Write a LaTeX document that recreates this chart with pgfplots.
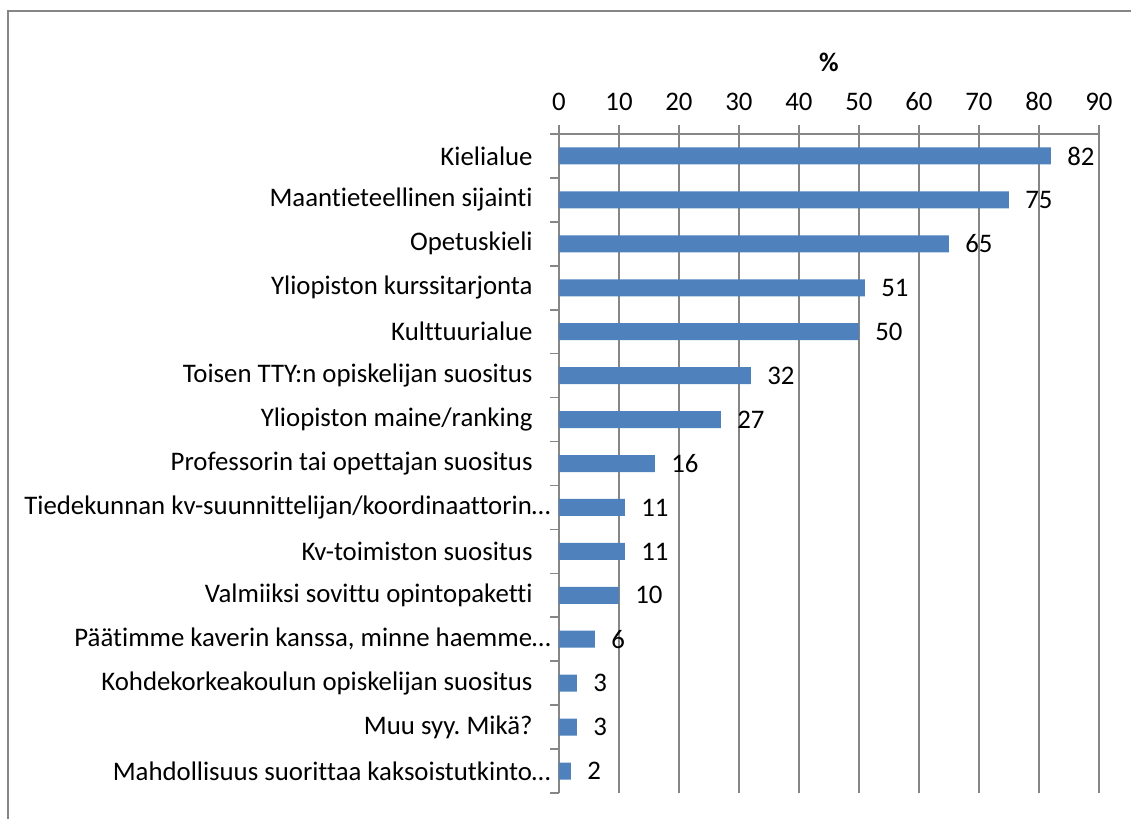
\documentclass[border=0pt]{standalone}
\usepackage{fontspec}
\setmainfont{Carlito}[Ligatures=NoCommon]
\usepackage{pgfplots}
\pgfplotsset{compat=1.18}
\definecolor{barblue}{HTML}{4F81BD}
\definecolor{axgray}{HTML}{868686}
\newcommand{\lf}{\fontsize{13.4pt}{15pt}\selectfont}
\newcommand{\pd}{\rule{9pt}{0pt}}
\frenchspacing
\begin{document}
\lf
\begin{tikzpicture}[x=1pt,y=1pt]
\path[use as bounding box] (0,0) rectangle (565.5,-409.5);
\draw[axgray, line width=1pt] (4,-409.5) -- (4,-5.5) -- (565.5,-5.5);
\begin{axis}[
  at={(279.5pt,-67pt)}, anchor=north west,
  scale only axis, width=270pt, height=329.5pt,
  xbar, bar width=8.5pt,
  xmin=0, xmax=90, xtick={0,10,...,90},
  ymin=-0.5, ymax=14.5, y dir=reverse,
  ytick={-0.5,0.5,...,14.5}, yticklabels={},
  extra y ticks={0,1,...,14},
  extra y tick labels={
    Kielialue\pd,
    Maantieteellinen sijainti\pd,
    Opetuskieli\pd,
    Yliopiston kurssitarjonta\pd,
    Kulttuurialue\pd,
    Toisen TTY:n opiskelijan suositus\pd,
    Yliopiston maine/ranking\pd,
    Professorin tai opettajan suositus\pd,
    Tiedekunnan kv-suunnittelijan/koordinaattorin…,
    Kv-toimiston suositus\pd,
    Valmiiksi sovittu opintopaketti\pd,
    Päätimme kaverin kanssa{,} minne haemme…,
    Kohdekorkeakoulun opiskelijan suositus\pd,
    Muu syy. Mikä?\pd,
    Mahdollisuus suorittaa kaksoistutkinto…},
  extra y tick style={major tick length=0pt,
    yticklabel style={anchor=east, inner sep=0pt, xshift=-4pt}},
  axis x line*=top, axis y line*=left,
  axis line style={axgray, line width=0.8pt},
  tick style={axgray, line width=0.8pt},
  tick align=outside, major tick length=4.5pt,
  xmajorgrids, grid style={axgray, line width=0.8pt},
  /pgf/number format/assume math mode=true,
  tick label style={font=\lf, black},
  xticklabel style={inner sep=0pt, yshift=7pt},
  nodes near coords,
  every node near coord/.append style={anchor=west, inner sep=0pt, xshift=8pt, font=\lf, black},
]
\addplot[fill=barblue, draw=none] coordinates {
(82,0) (75,1) (65,2) (51,3) (50,4) (32,5) (27,6) (16,7) (11,8) (11,9) (10,10) (6,11) (3,12) (3,13) (2,14)};
\end{axis}
\node[font=\lf\bfseries] at (414.5,-31) {\%};
\end{tikzpicture}
\end{document}
